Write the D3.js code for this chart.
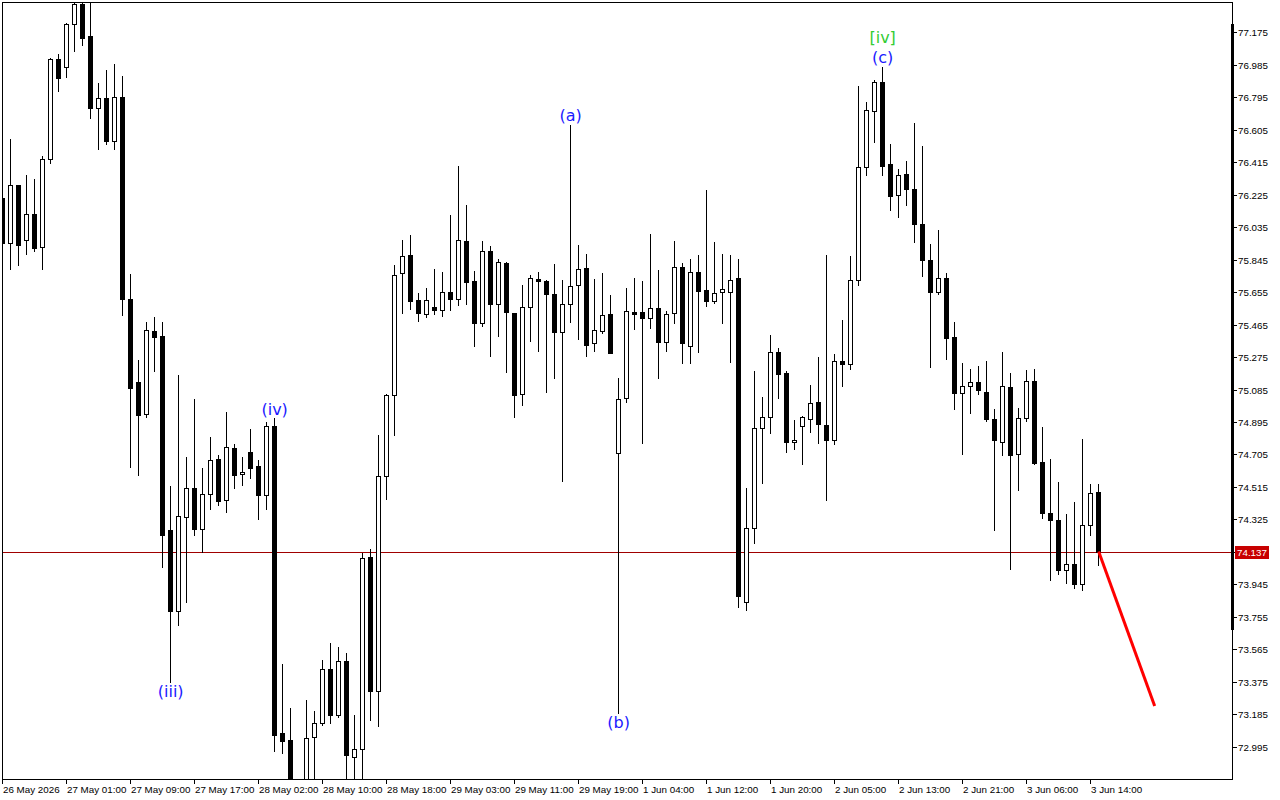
<!DOCTYPE html>
<html><head><meta charset="utf-8">
<script src="https://cdn.jsdelivr.net/npm/d3@7"></script>
<style>html,body{margin:0;padding:0;background:#fff;}svg{display:block;}</style>
</head><body>
<svg id="chart" width="1280" height="800"></svg>
<script>
const openP = [76.205,75.942,76.281,75.960,76.112,75.919,76.434,77.019,76.972,77.224,
77.341,77.153,76.732,76.791,76.539,76.796,75.614,75.129,74.942,75.427,
75.398,74.263,73.789,74.339,74.509,74.269,74.473,74.678,74.438,74.743,
74.591,74.719,74.637,74.468,74.871,73.075,73.034,72.75,72.72,73.052,
73.133,73.449,73.180,73.496,72.934,72.981,74.105,73.321,74.579,75.053,
75.767,75.872,75.609,75.527,75.568,75.550,75.655,75.614,75.954,75.720,
75.474,75.895,75.585,75.825,75.533,75.059,75.568,75.731,75.720,75.644,
75.423,75.585,75.696,75.796,75.357,75.427,75.527,74.713,75.035,75.538,
75.538,75.503,75.562,75.365,75.533,75.802,75.341,75.772,75.667,75.605,
75.657,75.657,75.737,73.843,74.276,74.860,74.926,75.304,75.181,74.776,
74.871,74.912,75.012,74.877,74.789,75.252,75.232,75.726,76.387,76.715,
76.882,76.403,76.221,76.345,76.257,76.056,75.845,75.657,75.736,75.390,
75.066,75.108,75.129,75.070,74.912,74.779,75.097,74.705,74.916,75.135,
74.661,74.365,74.320,74.031,74.063,73.949,74.295,74.488];
const highP = [76.217,76.551,76.281,76.340,76.317,76.451,77.022,77.048,77.229,77.38,
77.37,77.39,76.878,76.954,76.990,76.919,75.761,75.258,75.480,75.509,
75.480,74.520,75.170,74.690,75.029,74.626,74.807,74.702,74.953,74.766,
74.690,74.854,74.672,74.895,74.918,73.479,73.221,72.79,73.268,73.206,
73.502,73.602,73.578,73.543,73.180,74.128,74.152,74.819,75.060,75.813,
75.960,75.989,75.650,75.676,75.790,75.775,76.106,76.393,76.162,75.778,
75.954,75.925,75.848,75.831,75.535,75.696,75.755,75.772,75.726,75.819,
75.726,76.633,75.930,75.878,75.731,75.767,75.638,75.152,75.679,75.737,
75.720,75.995,75.784,75.544,75.954,75.825,75.848,75.872,76.252,75.948,
75.878,75.872,75.848,74.509,75.193,75.043,75.404,75.329,75.193,74.906,
74.930,75.111,75.277,75.872,75.293,75.489,75.866,76.862,76.765,76.896,
76.972,76.519,76.373,76.423,76.644,76.510,75.937,76.018,75.767,75.480,
75.238,75.205,75.225,75.252,74.970,75.303,75.180,74.974,75.198,75.205,
74.867,74.678,74.544,74.354,74.425,74.795,74.531,74.531];
const lowP = [75.930,75.790,75.813,75.878,75.895,75.790,76.410,76.832,76.913,77.066,
77.101,76.674,76.492,76.521,76.492,75.521,74.631,74.585,74.924,75.193,
74.046,73.373,73.707,73.842,74.234,74.134,74.386,74.409,74.368,74.509,
74.526,74.567,74.327,74.386,72.970,72.958,72.70,72.62,72.68,72.78,
73.122,73.133,73.168,72.78,72.79,72.78,73.151,73.116,74.444,74.816,
75.533,75.558,75.486,75.509,75.527,75.515,75.550,75.579,75.585,75.339,
75.457,75.281,75.398,75.187,74.924,74.994,75.369,75.313,75.070,75.152,
74.551,75.482,75.380,75.283,75.312,75.415,75.298,73.192,75.012,75.439,
74.774,75.447,75.154,75.312,75.476,75.242,75.242,75.306,75.576,75.593,
75.476,75.248,73.814,73.795,74.188,74.540,74.830,75.037,74.721,74.737,
74.647,74.838,74.770,74.437,74.768,75.108,75.203,75.695,76.342,76.535,
76.342,76.136,76.096,76.167,75.948,75.751,75.214,75.644,75.265,74.970,
74.710,74.947,75.057,74.901,74.260,74.699,74.033,74.497,74.901,74.652,
74.336,73.973,74.007,73.955,73.922,73.911,74.235,74.056];
const closeP = [75.942,76.281,75.930,76.112,75.913,76.434,77.019,76.908,77.224,77.341,
77.142,76.732,76.791,76.539,76.796,75.614,75.094,74.936,75.433,75.392,
74.234,73.789,74.345,74.509,74.269,74.473,74.672,74.432,74.748,74.585,
74.602,74.626,74.468,74.871,73.063,73.028,72.75,72.70,73.046,73.133,
73.449,73.180,73.496,72.946,72.981,74.099,73.321,74.579,75.053,75.755,
75.866,75.600,75.533,75.609,75.550,75.655,75.614,75.960,75.714,75.474,
75.895,75.585,75.831,75.538,75.053,75.568,75.737,75.720,75.644,75.423,
75.585,75.690,75.790,75.347,75.433,75.521,75.300,75.029,75.544,75.527,
75.503,75.562,75.365,75.527,75.802,75.359,75.772,75.663,75.605,75.650,
75.673,75.726,73.878,74.275,74.860,74.926,75.304,75.177,74.776,74.789,
74.926,75.006,74.883,74.789,75.252,75.232,75.726,76.387,76.719,76.882,
76.394,76.219,76.338,76.257,76.056,75.845,75.657,75.736,75.384,75.066,
75.108,75.126,75.080,74.912,74.788,75.104,74.701,74.916,75.135,74.656,
74.365,74.320,74.029,74.063,73.949,74.295,74.477,74.137];
const timeLabels = ["26 May 2026","27 May 01:00","27 May 09:00","27 May 17:00","28 May 02:00","28 May 10:00","28 May 18:00","29 May 03:00","29 May 11:00","29 May 19:00","1 Jun 04:00","1 Jun 12:00","1 Jun 20:00","2 Jun 05:00","2 Jun 13:00","2 Jun 21:00","3 Jun 06:00","3 Jun 14:00"];
const timeLabelIdx = timeLabels.map((d,i)=>1+8*i);
const priceTicks = d3.range(23).map(i => +(77.175 - 0.19*i).toFixed(3));
const lastPrice = 74.137;
const waveLabels = [
  {text:"(iii)", idx:22, price:73.373, pos:"below", color:"#1a1aff"},
  {text:"(iv)", idx:35, price:74.918, pos:"above", color:"#1a1aff"},
  {text:"(a)", idx:72, price:76.633, pos:"above", color:"#1a1aff"},
  {text:"(b)", idx:78, price:73.192, pos:"below", color:"#1a1aff"},
  {text:"(c)", idx:111, price:76.972, pos:"above", color:"#1a1aff"},
  {text:"[iv]", idx:111, price:76.972, pos:"above2", color:"#33cc33"}
];
const forecastIdx = [138, 145];
const forecastPrice = [74.137, 73.233];

const svg = d3.select("#chart");
const L = 2, R = 1232, T = 2, B = 779;
const x = d3.scaleLinear().domain([1,138]).range([2.67, 1098.67]);
const y = d3.scaleLinear().domain([72.995, 77.175]).range([746.7, 32.3]);
const col = k => Math.floor(x(k));

svg.append("defs").append("clipPath").attr("id","clip")
  .append("rect").attr("x",L).attr("y",T).attr("width",R-L).attr("height",B-T);

const plot = svg.append("g").attr("clip-path","url(#clip)");

plot.append("line").attr("x1",L).attr("x2",R).attr("y1",Math.round(y(lastPrice))+0.5).attr("y2",Math.round(y(lastPrice))+0.5)
  .attr("stroke","#a00000").attr("stroke-width",1);

const candles = d3.range(openP.length).map(i => ({k:i+1,o:openP[i],h:highP[i],l:lowP[i],c:closeP[i]}));
const g = plot.append("g");
candles.forEach(d => {
  const cx = col(d.k);
  g.append("line").attr("x1",cx+0.5).attr("x2",cx+0.5)
    .attr("y1",Math.round(y(d.h))).attr("y2",Math.round(y(d.l))+1)
    .attr("stroke","#000").attr("stroke-width",1);
  const top = Math.round(y(Math.max(d.o,d.c)));
  const bot = Math.round(y(Math.min(d.o,d.c)));
  if (d.c > d.o) {
    g.append("rect").attr("x",cx-1.5).attr("y",top+0.5).attr("width",4).attr("height",Math.max(1,bot-top))
      .attr("fill","#fff").attr("stroke","#000").attr("stroke-width",1);
  } else {
    g.append("rect").attr("x",cx-2).attr("y",top).attr("width",5).attr("height",Math.max(1,bot-top+1))
      .attr("fill","#000");
  }
});

plot.append("line")
  .attr("x1",x(forecastIdx[0])).attr("y1",y(forecastPrice[0]))
  .attr("x2",x(forecastIdx[1])).attr("y2",y(forecastPrice[1]))
  .attr("stroke","#ff0000").attr("stroke-width",3);

waveLabels.forEach(w => {
  let yy;
  if (w.pos==="above") yy = y(w.price) - 9;
  else if (w.pos==="above2") yy = y(w.price) - 29;
  else yy = y(w.price) + 9.5;
  svg.append("text").attr("x",x(w.idx)).attr("y",yy).attr("text-anchor","middle")
    .attr("dominant-baseline","central")
    .attr("font-family","DejaVu Sans, sans-serif").attr("font-size",16).attr("fill",w.color).text(w.text);
});

svg.append("rect").attr("x",L+0.5).attr("y",T+0.5).attr("width",R-L).attr("height",B-T)
  .attr("fill","none").attr("stroke","#000").attr("stroke-width",1);
svg.append("rect").attr("x",R-1).attr("y",24).attr("width",3).attr("height",606).attr("fill","#000");

const fontAx = "Liberation Sans, Arial, sans-serif";
const yAx = svg.append("g");
priceTicks.forEach(p => {
  const yy = Math.round(y(p))+0.5;
  yAx.append("line").attr("x1",R).attr("x2",R+5).attr("y1",yy).attr("y2",yy).attr("stroke","#000");
  yAx.append("text").attr("x",R+6).attr("y",yy).attr("dominant-baseline","central")
    .attr("font-family",fontAx).attr("font-size",9.8).attr("fill","#000").text(p.toFixed(3));
});
const ly = Math.round(y(lastPrice));
yAx.append("rect").attr("x",1235).attr("y",ly-6).attr("width",34).attr("height",13).attr("fill","#c80000");
yAx.append("text").attr("x",1237).attr("y",ly+0.5).attr("dominant-baseline","central")
  .attr("font-family",fontAx).attr("font-size",9.8).attr("fill","#fff").text(lastPrice.toFixed(3));

const xAx = svg.append("g");
timeLabels.forEach((t,i) => {
  const xx = col(timeLabelIdx[i]) + 0.5;
  xAx.append("line").attr("x1",xx).attr("x2",xx).attr("y1",B).attr("y2",B+5).attr("stroke","#000");
  xAx.append("text").attr("x",xx+0.5).attr("y",792.5)
    .attr("font-family",fontAx).attr("font-size",9.8).attr("fill","#000").text(t);
});
</script>
</body></html>
